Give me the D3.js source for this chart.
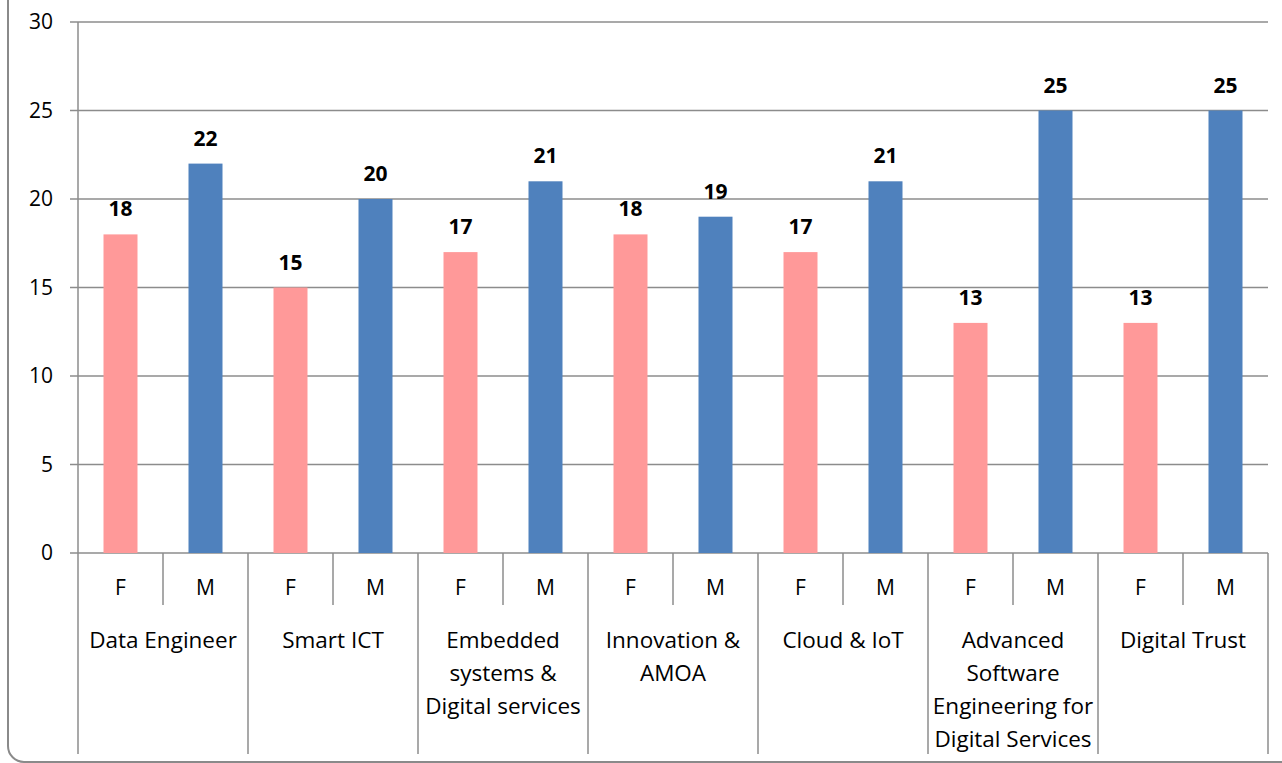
<!DOCTYPE html>
<html>
<head>
<meta charset="utf-8">
<script src="https://cdn.jsdelivr.net/npm/d3@7"></script>
<style>
  body { margin: 0; background: #fff; }
  svg { display: block; font-family: "Open Sans", "Noto Sans", sans-serif; }
</style>
</head>
<body>
<svg id="chart"></svg>
<script>
// Chart data
const categories = ["Data Engineer", "Smart ICT", "Embedded\nsystems &\nDigital services", "Innovation &\nAMOA", "Cloud & IoT", "Advanced\nSoftware\nEngineering for\nDigital Services", "Digital Trust"];
const genders = ["F", "M"];
const femaleValues = [18, 15, 17, 18, 17, 13, 13];
const maleValues = [22, 20, 21, 19, 21, 25, 25];
const yTicks = [0, 5, 10, 15, 20, 25, 30];

const W = 1282, H = 763;
const margin = { top: 22, right: 14, bottom: 210, left: 78 };
const width = W - margin.left - margin.right;
const height = H - margin.top - margin.bottom;
const colors = { F: "#ff9999", M: "#4f81bd" };
const gridColor = "#8c8c8c";

const svg = d3.select('#chart')
    .attr('width', W)
    .attr('height', H);

// outer chart border (partly cropped in the original)
svg.append('rect')
    .attr('x', 8).attr('y', -30)
    .attr('width', W + 40).attr('height', H + 29)
    .attr('rx', 16)
    .attr('fill', 'none')
    .attr('stroke', '#8a8a8a')
    .attr('stroke-width', 2);

const g = svg.append('g')
    .attr('transform', `translate(${margin.left},${margin.top})`);

const x0 = d3.scaleBand().domain(categories).range([0, width]);
const x1 = d3.scaleBand().domain(genders).range([0, x0.bandwidth()]);
const y = d3.scaleLinear().domain([0, 30]).range([height, 0]);

// gridlines + y ticks
g.selectAll('.grid')
    .data(yTicks)
    .enter().append('line')
    .attr('x1', -8).attr('x2', width)
    .attr('y1', d => y(d)).attr('y2', d => y(d))
    .attr('stroke', gridColor).attr('stroke-width', 1.5);

g.selectAll('.ytick')
    .data(yTicks)
    .enter().append('text')
    .attr('x', -25)
    .attr('y', d => y(d))
    .attr('dy', '.35em')
    .attr('text-anchor', 'end')
    .attr('font-size', 21)
    .text(d => d);

// y axis line
g.append('line')
    .attr('x1', 0).attr('x2', 0)
    .attr('y1', 0).attr('y2', height)
    .attr('stroke', gridColor).attr('stroke-width', 1.5);

// rows of data
const rows = categories.map((c, i) => [
    { cat: c, g: "F", v: femaleValues[i] },
    { cat: c, g: "M", v: maleValues[i] }
]).flat();

const barW = x1.bandwidth() * 0.4;

g.selectAll('.bar')
    .data(rows)
    .enter().append('rect')
    .attr('x', d => x0(d.cat) + x1(d.g) + (x1.bandwidth() - barW) / 2)
    .attr('y', d => y(d.v))
    .attr('width', barW)
    .attr('height', d => height - y(d.v))
    .attr('fill', d => colors[d.g]);

g.selectAll('.val')
    .data(rows)
    .enter().append('text')
    .attr('x', d => x0(d.cat) + x1(d.g) + x1.bandwidth() / 2)
    .attr('y', d => y(d.v) - 18)
    .attr('text-anchor', 'middle')
    .attr('font-size', 21)
    .attr('font-weight', 'bold')
    .text(d => d.v);

// category axis: separators and labels
const subLen = 52, groupLen = 201;
g.selectAll('.gsep')
    .data(categories.concat(['_end']))
    .enter().append('line')
    .attr('x1', (d, i) => i * x0.bandwidth())
    .attr('x2', (d, i) => i * x0.bandwidth())
    .attr('y1', height).attr('y2', height + groupLen)
    .attr('stroke', gridColor).attr('stroke-width', 1.5);

g.selectAll('.ssep')
    .data(categories)
    .enter().append('line')
    .attr('x1', d => x0(d) + x1("M"))
    .attr('x2', d => x0(d) + x1("M"))
    .attr('y1', height).attr('y2', height + subLen)
    .attr('stroke', gridColor).attr('stroke-width', 1.5);

g.selectAll('.glab')
    .data(rows)
    .enter().append('text')
    .attr('x', d => x0(d.cat) + x1(d.g) + x1.bandwidth() / 2)
    .attr('y', height + 35)
    .attr('dy', '.35em')
    .attr('text-anchor', 'middle')
    .attr('font-size', 21)
    .text(d => d.g);

g.selectAll('.clab')
    .data(categories)
    .enter().append('text')
    .attr('text-anchor', 'middle')
    .attr('font-size', 22.5)
    .attr('transform', d => `translate(${x0(d) + x0.bandwidth() / 2},${height + 87})`)
    .each(function(d) {
        d3.select(this).selectAll('tspan')
            .data(d.split('\n'))
            .enter().append('tspan')
            .attr('x', 0)
            .attr('y', (l, i) => i * 33)
            .attr('dy', '.35em')
            .text(l => l);
    });
</script>
</body>
</html>
